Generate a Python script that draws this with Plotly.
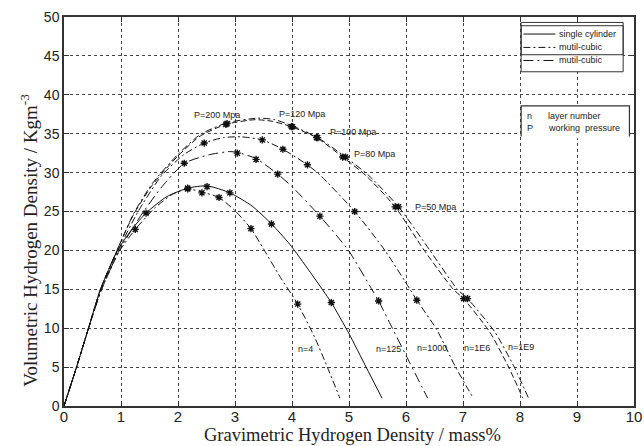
import plotly.graph_objects as go

# ---------------- data ----------------
single_x = [0, 0.22, 0.43, 0.64, 0.94, 1.2, 1.44, 1.8, 2.17, 2.51, 2.91, 3.3, 3.64, 3.96, 4.3, 4.55, 4.69, 5.0, 5.3, 5.58]
single_y = [0, 5, 10, 15, 20, 22.8, 24.8, 26.9, 28.0, 28.3, 27.4, 25.7, 23.4, 20.8, 17.4, 14.8, 13.3, 9.3, 5.0, 1.0]
single_mx = [1.44, 2.17, 2.51, 2.91, 3.64, 4.69]
single_my = [24.8, 28.0, 28.2, 27.4, 23.4, 13.3]

n4_x = [0, 0.22, 0.43, 0.66, 0.98, 1.25, 1.6, 1.9, 2.17, 2.42, 2.72, 3.0, 3.28, 3.5, 3.8, 4.10, 4.4, 4.62, 4.84]
n4_y = [0, 5, 10, 15, 20, 22.7, 25.5, 27.2, 27.9, 27.5, 26.8, 25.1, 22.8, 20.2, 16.5, 13.1, 8.8, 5.0, 1.0]
n4_mx = [1.25, 2.17, 2.42, 2.72, 3.28, 4.10]
n4_my = [22.7, 27.9, 27.4, 26.8, 22.8, 13.1]

n125_x = [0, 0.22, 0.43, 0.66, 0.97, 1.35, 1.72, 2.11, 2.55, 2.9, 3.04, 3.37, 3.75, 4.0, 4.49, 4.99, 5.4, 5.52, 5.76, 6.07, 6.38]
n125_y = [0, 5, 10, 15, 20, 24.5, 28.2, 31.2, 32.3, 32.7, 32.6, 31.8, 29.8, 28.2, 24.4, 20.0, 15.0, 13.5, 10.0, 5.5, 1.0]
n125_mx = [2.11, 3.04, 3.37, 3.75, 4.49, 5.52]
n125_my = [31.2, 32.5, 31.7, 29.8, 24.4, 13.5]

n1000_x = [0, 0.22, 0.43, 0.65, 0.95, 1.3, 1.7, 2.1, 2.46, 2.8, 3.1, 3.48, 3.84, 4.27, 4.49, 5.1, 5.63, 6.07, 6.19, 6.54, 6.87, 7.18]
n1000_y = [0, 5, 10, 15, 20, 25, 29.5, 32.3, 33.8, 34.5, 34.6, 34.2, 33.0, 31.0, 29.7, 25.0, 20.0, 15.0, 13.6, 9.8, 5.0, 1.0]
n1000_mx = [2.46, 3.48, 3.84, 4.27, 5.10, 6.19]
n1000_my = [33.8, 34.2, 33.0, 31.0, 25.0, 13.6]

n1e6_x = [0, 0.22, 0.43, 0.64, 0.93, 1.22, 1.55, 1.98, 2.39, 2.84, 3.35, 3.65, 3.99, 4.43, 4.89, 5.3, 5.81, 6.32, 6.83, 7.01, 7.47, 7.8, 8.05]
n1e6_y = [0, 5, 10, 15, 20, 24.6, 28.4, 32.0, 34.7, 36.2, 36.8, 36.6, 35.9, 34.5, 32.0, 29.6, 25.6, 20.0, 15.0, 13.8, 9.5, 5.0, 1.0]
n1e6_mx = [2.84, 3.99, 4.43, 4.89, 5.81, 7.01]
n1e6_my = [36.2, 35.9, 34.5, 32.0, 25.6, 13.8]

n1e9_x = [0, 0.22, 0.43, 0.64, 0.93, 1.22, 1.55, 1.98, 2.39, 2.86, 3.4, 3.7, 4.01, 4.45, 4.94, 5.35, 5.87, 6.42, 6.9, 7.08, 7.56, 7.9, 8.15]
n1e9_y = [0, 5, 10, 15, 20, 24.7, 28.6, 32.2, 34.9, 36.4, 37.0, 36.8, 36.0, 34.5, 32.0, 29.6, 25.6, 20.0, 15.0, 13.8, 9.5, 5.0, 1.0]
n1e9_mx = [2.86, 4.01, 4.45, 4.94, 5.87, 7.08]
n1e9_my = [36.3, 35.9, 34.5, 32.0, 25.6, 13.8]

pressure_labels = ["P=200 Mpa", "P=120 Mpa", "P=100 Mpa", "P=80 Mpa", "P=50 Mpa"]
pressure_lx = [2.24, 3.73, 4.64, 5.05, 6.13]
pressure_ly = [37.4, 37.55, 35.2, 32.4, 25.55]

layer_labels = ["n=4", "n=125", "n=1000", "n=1E6", "n=1E9"]
layer_lx = [4.07, 5.44, 6.15, 6.99, 7.75]
layer_ly = [7.3, 7.3, 7.5, 7.5, 7.6]

legend_labels = ["single cylinder", "mutil-cubic", "mutil-cubic"]
x_ticks = [0, 1, 2, 3, 4, 5, 6, 7, 8, 9, 10]
y_ticks = [0, 5, 10, 15, 20, 25, 30, 35, 40, 45, 50]

# ---------------- styles ----------------
DASHDOT = "7px,3px,2px,3px"
LONGDASHDOT = "10px,4px,2px,4px"
DASH = "6px,3px"
LC = "#111"

curves = [
    (single_x, single_y, single_mx, single_my, "solid"),
    (n4_x, n4_y, n4_mx, n4_my, DASHDOT),
    (n125_x, n125_y, n125_mx, n125_my, LONGDASHDOT),
    (n1000_x, n1000_y, n1000_mx, n1000_my, DASHDOT),
    (n1e6_x, n1e6_y, n1e6_mx, n1e6_my, DASH),
    (n1e9_x, n1e9_y, n1e9_mx, n1e9_my, DASHDOT),
]

fig = go.Figure()
for cx, cy, mx, my, dash in curves:
    fig.add_trace(go.Scatter(x=cx, y=cy, mode="lines",
                             line=dict(color=LC, width=1, dash=dash, shape="spline", smoothing=0.6),
                             showlegend=False, hoverinfo="skip"))
    fig.add_trace(go.Scatter(x=mx, y=my, mode="markers",
                             marker=dict(symbol="asterisk-open", size=6, color=LC,
                                         line=dict(color=LC, width=1.4)),
                             showlegend=False, hoverinfo="skip"))

shapes = []
small = dict(family="Liberation Sans, Arial", size=9, color="#222")
anns = []
for t, x, y in zip(pressure_labels, pressure_lx, pressure_ly):
    anns.append(dict(x=x, y=y, xref="x", yref="y", text=t, showarrow=False,
                     xanchor="left", yanchor="middle", font=small))
for t, x, y in zip(layer_labels, layer_lx, layer_ly):
    anns.append(dict(x=x, y=y, xref="x", yref="y", text=t, showarrow=False,
                     xanchor="left", yanchor="middle", font=small))

# legend box (drawn, opaque over the grid)
leg_y = [47.81, 46.09, 44.41]
leg_dash = ["solid", DASHDOT, LONGDASHDOT]
shapes.append(dict(type="rect", xref="x", yref="y", x0=8.02, x1=9.81, y0=42.96, y1=49.3,
                   line=dict(color="#333", width=1), fillcolor="white"))
shapes.append(dict(type="rect", xref="x", yref="y", x0=8.02, x1=9.81, y0=45.15, y1=48.88,
                   line=dict(color="#333", width=1)))
for t, y, d in zip(legend_labels, leg_y, leg_dash):
    shapes.append(dict(type="line", xref="x", yref="y", x0=8.06, x1=8.62, y0=y, y1=y,
                       line=dict(color=LC, width=1, dash=d)))
    anns.append(dict(x=8.65, y=y, xref="x", yref="y", text=t, showarrow=False,
                     xanchor="left", yanchor="middle", font=small))
# notation box
shapes.append(dict(type="rect", xref="x", yref="y", x0=8.02, x1=9.92, y0=34.4, y1=38.58,
                   line=dict(width=0), fillcolor="white"))
shapes.append(dict(type="path", xref="x", yref="y",
                   path="M 8.02 34.63 L 8.02 38.58 L 9.92 38.58 L 9.92 34.63",
                   line=dict(color="#333", width=1.2)))
anns.append(dict(x=8.09, y=37.3, xref="x", yref="y", text="n", showarrow=False,
                 xanchor="left", yanchor="middle", font=small))
anns.append(dict(x=8.45, y=37.3, xref="x", yref="y", text="layer number", showarrow=False,
                 xanchor="left", yanchor="middle", font=small))
anns.append(dict(x=8.09, y=35.75, xref="x", yref="y", text="P", showarrow=False,
                 xanchor="left", yanchor="middle", font=small))
anns.append(dict(x=8.45, y=35.75, xref="x", yref="y", text="working  pressure", showarrow=False,
                 xanchor="left", yanchor="middle", font=small))

# axis titles
anns.append(dict(x=0.506, y=-0.075, xref="paper", yref="paper",
                 text="Gravimetric Hydrogen Density / mass%", showarrow=False,
                 xanchor="center", yanchor="middle",
                 font=dict(family="Liberation Serif, Times New Roman", size=18.5, color="#222")))
anns.append(dict(x=-0.062, y=0.4266, xref="paper", yref="paper",
                 text="Volumetric Hydrogen Density / Kgm<sup>-3</sup>", showarrow=False,
                 textangle=-90, xanchor="center", yanchor="middle",
                 font=dict(family="Liberation Serif, Times New Roman", size=19, color="#222")))

axis_common = dict(showline=True, linecolor="#333", linewidth=1.5, mirror="ticks",
                   ticks="inside", ticklen=5, tickcolor="#333", tickwidth=1,
                   showgrid=True, gridcolor="#444", gridwidth=1, griddash="dot",
                   zeroline=False)

fig.update_layout(
    template="none",
    width=644, height=446,
    margin=dict(l=64, r=10, t=17, b=40),
    paper_bgcolor="white", plot_bgcolor="white",
    xaxis=dict(range=[0, 10], tickmode="array", tickvals=x_ticks,
               ticktext=[str(v) for v in x_ticks],
               tickfont=dict(family="Liberation Sans, Arial", size=15, color="#222"),
               ticklabelstandoff=-4,
               **axis_common),
    yaxis=dict(range=[0, 50], tickmode="array", tickvals=y_ticks,
               ticktext=[str(v) for v in y_ticks],
               tickfont=dict(family="Liberation Sans, Arial", size=14, color="#222"),
               **axis_common),
    annotations=anns,
    shapes=shapes,
    showlegend=False,
)

fig.write_html("out.html")
